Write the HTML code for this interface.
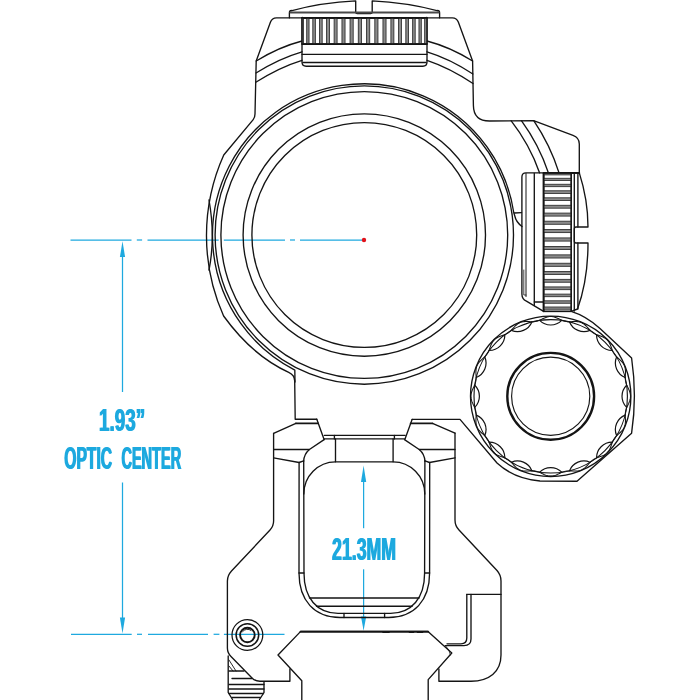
<!DOCTYPE html>
<html><head><meta charset="utf-8"><title>Optic center height</title>
<style>
html,body{margin:0;padding:0;background:#fff;}
body{width:700px;height:700px;overflow:hidden;}
svg{display:block;}
text{font-family:"Liberation Sans",sans-serif;}
</style></head><body>
<svg width="700" height="700" viewBox="0 0 700 700">
<defs><filter id="bx" x="-3%" y="-10%" width="106%" height="120%"><feOffset dx="1" dy="0" result="o"/><feMerge><feMergeNode in="SourceGraphic"/><feMergeNode in="o"/></feMerge></filter></defs>
<rect width="700" height="700" fill="#fff"/>
<g fill="none" stroke="#1ea9df" stroke-width="1.25">
<line x1="70.50" y1="240.00" x2="131.50" y2="240.00" />
<line x1="136.80" y1="240.00" x2="142.10" y2="240.00" />
<line x1="147.50" y1="240.00" x2="218.70" y2="240.00" />
<line x1="223.80" y1="240.00" x2="285.00" y2="240.00" />
<line x1="290.00" y1="240.00" x2="295.00" y2="240.00" />
<line x1="300.00" y1="240.00" x2="362.00" y2="240.00" />
<line x1="71.00" y1="634.30" x2="131.70" y2="634.30" />
<line x1="137.00" y1="634.30" x2="142.00" y2="634.30" />
<line x1="148.00" y1="634.30" x2="208.00" y2="634.30" />
<line x1="213.60" y1="634.30" x2="219.40" y2="634.30" />
<line x1="223.90" y1="634.30" x2="284.50" y2="634.30" />
<line x1="122.50" y1="256.00" x2="122.50" y2="392.00" />
<line x1="122.50" y1="482.50" x2="122.50" y2="618.50" />
<line x1="363.60" y1="481.00" x2="363.60" y2="528.20" />
<line x1="363.60" y1="569.30" x2="363.60" y2="617.50" />
</g>
<g fill="#1ea9df" stroke="none">
<path d="M122.5,241.2 L125.1,257 L119.9,257 Z"/>
<path d="M122.5,633.5 L125.1,617.5 L119.9,617.5 Z"/>
<path d="M363.6,465.6 L366.2,482 L361,482 Z"/>
<path d="M363.6,630.8 L366.2,616.5 L361,616.5 Z"/>
</g>
<g fill="none" stroke="#141414" stroke-width="1.35" stroke-linejoin="round" stroke-linecap="round">
<path d="M289.5,17.8 L276.5,17.8 Q272,17.8 270.4,22.2 L256.2,61 L255,114 Q254.9,117.5 253.2,119.6 L223.75,155 A197,197 0 0 0 223.6,316 Q252.6,356 288.7,372.3 Q294.7,375 294.7,381 L295.2,419.2 L316.8,419.2" />
<path d="M439.5,17.8 L452.3,17.8 Q456.8,17.8 458.4,22.2 L472.6,61 L473.4,105.5 Q473.6,121 489.5,121 L533.6,120.7 L573,135.4 Q579.3,137.8 579.3,144 L579.3,172.9" />
<path d="M256.2,61 Q279,47 302,41" />
<path d="M256,73 Q279,58.5 302,51.8" />
<path d="M255.8,82.3 Q279,67.4 302,60.3" />
<path d="M472.6,61 Q450,47 427,41" />
<path d="M472.9,74 Q450,58.8 427,51.8" />
<path d="M473,83.5 Q450,68 427,60.3" />
<path d="M291,10.8 Q322,2.5 355.7,0.9 L355.7,12 Q355.7,13.6 357.3,13.6 L370.6,13.6 Q372.2,13.6 372.2,12 L372.2,0.9 Q406,2.5 438,10.8" />
<path d="M291.5,10.4 Q289.4,10.6 289.4,12.7 L289.4,17.8 L439.6,17.8 L439.6,12.7 Q439.6,10.6 437.5,10.4" />
<line x1="302.00" y1="17.80" x2="427.00" y2="17.80" stroke-width="1.7"/>
<line x1="290.50" y1="12.50" x2="438.50" y2="12.50" stroke-width="2.1" stroke="#484848"/>
<path d="M302,17.8 L302,62 Q302,66.2 306.2,66.2 L422.8,66.2 Q427,66.2 427,62 L427,17.8" />
<line x1="302.40" y1="17.80" x2="302.40" y2="44.00" stroke-width="1.9"/>
<line x1="426.60" y1="17.80" x2="426.60" y2="44.00" stroke-width="1.9"/>
<line x1="302.00" y1="44.00" x2="427.00" y2="44.00" stroke-width="1.6"/>
<line x1="302.00" y1="54.30" x2="427.00" y2="54.30" />
<line x1="303.00" y1="62.50" x2="426.00" y2="62.50" />
</g>
<g stroke="#222" stroke-width="0.8" fill="#8a8a8a">
<rect x="302.30" y="17.8" width="1.03" height="26.2"/>
<rect x="306.71" y="17.8" width="2.34" height="26.2"/>
<rect x="312.81" y="17.8" width="2.54" height="26.2"/>
<rect x="319.45" y="17.8" width="2.73" height="26.2"/>
<rect x="326.58" y="17.8" width="2.88" height="26.2"/>
<rect x="334.10" y="17.8" width="3.00" height="26.2"/>
<rect x="341.95" y="17.8" width="3.10" height="26.2"/>
<rect x="350.03" y="17.8" width="3.16" height="26.2"/>
<rect x="358.26" y="17.8" width="3.20" height="26.2"/>
<rect x="366.55" y="17.8" width="3.20" height="26.2"/>
<rect x="374.81" y="17.8" width="3.16" height="26.2"/>
<rect x="382.95" y="17.8" width="3.10" height="26.2"/>
<rect x="390.89" y="17.8" width="3.00" height="26.2"/>
<rect x="398.54" y="17.8" width="2.88" height="26.2"/>
<rect x="405.82" y="17.8" width="2.73" height="26.2"/>
<rect x="412.65" y="17.8" width="2.54" height="26.2"/>
<rect x="418.95" y="17.8" width="2.34" height="26.2"/>
<rect x="424.67" y="17.8" width="2.03" height="26.2"/>
</g>
<g stroke="#141414" fill="none">
<line x1="302.00" y1="17.80" x2="427.00" y2="17.80" stroke-width="1.7"/>
<line x1="302.00" y1="44.20" x2="427.00" y2="44.20" stroke-width="1.7"/>
</g>
<g fill="none" stroke="#141414" stroke-width="1.35" stroke-linejoin="round" stroke-linecap="round">
<circle cx="364.30" cy="235.00" r="149.20" />
<circle cx="364.30" cy="235.00" r="143.40" />
<circle cx="364.30" cy="235.00" r="121.20" />
<circle cx="364.30" cy="235.00" r="112.40" />
<path d="M522,226.5 Q516,222 514.8,216 Q514.4,214.5 513.85,213.02 A151.5,151.5 0 1 0 294.81,370.08 L295,382" />
<line x1="514.50" y1="213.00" x2="521.50" y2="212.60" />
<path d="M209,200 Q215.6,237 209,270" />
<path d="M511.04,120.7 A186,186 0 0 1 539.63,172.9" />
<path d="M521.42,120.7 A194.3,194.3 0 0 1 548.41,172.9" />
<path d="M533.75,120.7 A204.4,204.4 0 0 1 559.04,172.9" />
<path d="M579.3,172.9 L526,172.9 Q521.9,172.9 521.9,177 L521.9,294 Q521.9,299 526.4,301.2 L543.6,311.4 L571.2,311.4" />
<line x1="543.60" y1="172.90" x2="579.30" y2="172.90" stroke-width="1.8"/>
<line x1="526.00" y1="173.50" x2="526.00" y2="296.50" stroke-width="1.0"/>
<path d="M523.8,270 L523.8,295 L526,295" stroke-width="0.8"/>
<line x1="534.30" y1="173.50" x2="534.30" y2="305.50" />
<line x1="534.30" y1="302.00" x2="543.60" y2="302.00" />
<line x1="543.60" y1="172.90" x2="543.60" y2="311.40" stroke-width="1.6"/>
<line x1="571.20" y1="172.90" x2="571.20" y2="311.40" stroke-width="1.2"/>
<line x1="574.30" y1="173.50" x2="574.30" y2="311.00" />
<line x1="577.90" y1="173.50" x2="577.90" y2="227.00" />
<line x1="577.90" y1="243.00" x2="577.90" y2="309.00" />
<path d="M579.3,172.9 Q588,200 588,227 L576,227 Q574.3,227 574.3,229 L574.3,241 Q574.3,243 576,243 L588,243 Q588,280 577.5,309 L571.2,311.4" />
</g>
<g stroke="#222" stroke-width="0.8" fill="#8a8a8a">
<rect x="543.6" y="173.20" width="27.6" height="1.71"/>
<rect x="543.6" y="178.26" width="27.6" height="2.25"/>
<rect x="543.6" y="184.24" width="27.6" height="2.45"/>
<rect x="543.6" y="190.78" width="27.6" height="2.63"/>
<rect x="543.6" y="197.81" width="27.6" height="2.79"/>
<rect x="543.6" y="205.26" width="27.6" height="2.92"/>
<rect x="543.6" y="213.07" width="27.6" height="3.03"/>
<rect x="543.6" y="221.17" width="27.6" height="3.11"/>
<rect x="543.6" y="229.47" width="27.6" height="3.17"/>
<rect x="543.6" y="237.91" width="27.6" height="3.20"/>
<rect x="543.6" y="246.40" width="27.6" height="3.20"/>
<rect x="543.6" y="254.86" width="27.6" height="3.17"/>
<rect x="543.6" y="263.22" width="27.6" height="3.11"/>
<rect x="543.6" y="271.40" width="27.6" height="3.03"/>
<rect x="543.6" y="279.32" width="27.6" height="2.92"/>
<rect x="543.6" y="286.91" width="27.6" height="2.79"/>
<rect x="543.6" y="294.09" width="27.6" height="2.63"/>
<rect x="543.6" y="300.81" width="27.6" height="2.45"/>
<rect x="543.6" y="306.99" width="27.6" height="2.25"/>
</g>
<g stroke="#141414" fill="none">
<line x1="543.60" y1="172.90" x2="543.60" y2="311.40" stroke-width="1.7"/>
<line x1="571.20" y1="172.90" x2="571.20" y2="311.40" stroke-width="1.4"/>
<line x1="543.60" y1="172.90" x2="579.30" y2="172.90" stroke-width="1.8"/>
<line x1="543.60" y1="311.40" x2="571.20" y2="311.40" stroke-width="1.5"/>
</g>
<g fill="none" stroke="#141414" stroke-width="1.35" stroke-linejoin="round" stroke-linecap="round">
<circle cx="550.70" cy="396.30" r="80.20" />
<circle cx="550.70" cy="396.30" r="43.40" stroke-width="2.4"/>
<circle cx="550.70" cy="396.30" r="39.10" stroke-width="1.15"/>
<circle cx="550.70" cy="396.30" r="76.70" stroke-width="1.15"/>
<path d="M539.63,320.40 A15.63,15.63 0 0 0 561.77,320.40 M569.52,321.94 A15.63,15.63 0 0 0 589.97,330.42 M596.54,334.80 A15.63,15.63 0 0 0 612.20,350.46 M616.58,357.03 A15.63,15.63 0 0 0 625.06,377.48 M626.60,385.23 A15.63,15.63 0 0 0 626.60,407.37 M625.06,415.12 A15.63,15.63 0 0 0 616.58,435.57 M612.20,442.14 A15.63,15.63 0 0 0 596.54,457.80 M589.97,462.18 A15.63,15.63 0 0 0 569.52,470.66 M561.77,472.20 A15.63,15.63 0 0 0 539.63,472.20 M531.88,470.66 A15.63,15.63 0 0 0 511.43,462.18 M504.86,457.80 A15.63,15.63 0 0 0 489.20,442.14 M484.82,435.57 A15.63,15.63 0 0 0 476.34,415.12 M474.80,407.37 A15.63,15.63 0 0 0 474.80,385.23 M476.34,377.48 A15.63,15.63 0 0 0 484.82,357.03 M489.20,350.46 A15.63,15.63 0 0 0 504.86,334.80 M511.43,330.42 A15.63,15.63 0 0 0 531.88,321.94 " stroke-width="1.2"/>
<path d="M630.50,396.30 L630.48,397.00 L630.42,397.69 L630.33,398.39 L630.19,399.08 L630.03,399.76 L629.83,400.45 L629.60,401.13 L629.35,401.80 L629.08,402.47 L628.80,403.13 L628.50,403.79 L628.20,404.45 L627.89,405.09 L627.59,405.74 L627.29,406.38 L627.00,407.02 L626.73,407.66 L626.48,408.30 L626.25,408.94 L626.04,409.58 L625.86,410.23 L625.70,410.88 L625.57,411.53 L625.47,412.19 L625.39,412.86 L625.34,413.53 L625.30,414.21 L625.29,414.90 L625.30,415.59 L625.32,416.29 L625.35,417.00 L625.38,417.71 L625.41,418.43 L625.44,419.15 L625.47,419.87 L625.48,420.60 L625.47,421.32 L625.44,422.04 L625.39,422.75 L625.31,423.46 L625.20,424.16 L625.06,424.85 L624.89,425.52 L624.67,426.19 L624.43,426.84 L624.14,427.47 L623.82,428.09 L623.47,428.70 L623.08,429.29 L622.66,429.86 L622.22,430.41 L621.75,430.95 L621.26,431.48 L620.76,432.00 L620.24,432.50 L619.71,432.99 L619.18,433.48 L618.65,433.96 L618.12,434.44 L617.60,434.93 L617.09,435.41 L616.60,435.89 L616.12,436.39 L615.66,436.89 L615.22,437.40 L614.81,437.93 L614.41,438.47 L614.04,439.02 L613.69,439.59 L613.37,440.18 L613.06,440.78 L612.77,441.40 L612.50,442.03 L612.24,442.67 L611.99,443.33 L611.74,443.99 L611.50,444.66 L611.26,445.34 L611.01,446.02 L610.75,446.69 L610.49,447.36 L610.21,448.03 L609.91,448.68 L609.58,449.32 L609.24,449.94 L608.87,450.55 L608.48,451.13 L608.06,451.69 L607.61,452.22 L607.13,452.73 L606.62,453.21 L606.09,453.66 L605.53,454.08 L604.95,454.47 L604.34,454.84 L603.72,455.18 L603.08,455.51 L602.43,455.81 L601.76,456.09 L601.09,456.35 L600.42,456.61 L599.74,456.86 L599.06,457.10 L598.39,457.34 L597.73,457.59 L597.07,457.84 L596.43,458.10 L595.80,458.37 L595.18,458.66 L594.58,458.97 L593.99,459.29 L593.42,459.64 L592.87,460.01 L592.33,460.41 L591.80,460.82 L591.29,461.26 L590.79,461.72 L590.29,462.20 L589.81,462.69 L589.33,463.20 L588.84,463.72 L588.36,464.25 L587.88,464.78 L587.39,465.31 L586.90,465.84 L586.40,466.36 L585.88,466.86 L585.35,467.35 L584.81,467.82 L584.26,468.26 L583.69,468.68 L583.10,469.07 L582.49,469.42 L581.87,469.74 L581.24,470.03 L580.59,470.27 L579.92,470.49 L579.25,470.66 L578.56,470.80 L577.86,470.91 L577.15,470.99 L576.44,471.04 L575.72,471.07 L575.00,471.08 L574.27,471.07 L573.55,471.04 L572.83,471.01 L572.11,470.98 L571.40,470.95 L570.69,470.92 L569.99,470.90 L569.30,470.89 L568.61,470.90 L567.93,470.94 L567.26,470.99 L566.59,471.07 L565.93,471.17 L565.28,471.30 L564.63,471.46 L563.98,471.64 L563.34,471.85 L562.70,472.08 L562.06,472.33 L561.42,472.60 L560.78,472.89 L560.14,473.19 L559.49,473.49 L558.85,473.80 L558.19,474.10 L557.53,474.40 L556.87,474.68 L556.20,474.95 L555.53,475.20 L554.85,475.43 L554.16,475.63 L553.48,475.79 L552.79,475.93 L552.09,476.02 L551.40,476.08 L550.70,476.10 L550.00,476.08 L549.31,476.02 L548.61,475.93 L547.92,475.79 L547.24,475.63 L546.55,475.43 L545.87,475.20 L545.20,474.95 L544.53,474.68 L543.87,474.40 L543.21,474.10 L542.55,473.80 L541.91,473.49 L541.26,473.19 L540.62,472.89 L539.98,472.60 L539.34,472.33 L538.70,472.08 L538.06,471.85 L537.42,471.64 L536.77,471.46 L536.12,471.30 L535.47,471.17 L534.81,471.07 L534.14,470.99 L533.47,470.94 L532.79,470.90 L532.10,470.89 L531.41,470.90 L530.71,470.92 L530.00,470.95 L529.29,470.98 L528.57,471.01 L527.85,471.04 L527.13,471.07 L526.40,471.08 L525.68,471.07 L524.96,471.04 L524.25,470.99 L523.54,470.91 L522.84,470.80 L522.15,470.66 L521.48,470.49 L520.81,470.27 L520.16,470.03 L519.53,469.74 L518.91,469.42 L518.30,469.07 L517.71,468.68 L517.14,468.26 L516.59,467.82 L516.05,467.35 L515.52,466.86 L515.00,466.36 L514.50,465.84 L514.01,465.31 L513.52,464.78 L513.04,464.25 L512.56,463.72 L512.08,463.20 L511.59,462.69 L511.11,462.20 L510.61,461.72 L510.11,461.26 L509.60,460.82 L509.07,460.41 L508.53,460.01 L507.98,459.64 L507.41,459.29 L506.82,458.97 L506.22,458.66 L505.60,458.37 L504.97,458.10 L504.33,457.84 L503.67,457.59 L503.01,457.34 L502.34,457.10 L501.66,456.86 L500.98,456.61 L500.31,456.35 L499.64,456.09 L498.97,455.81 L498.32,455.51 L497.68,455.18 L497.06,454.84 L496.45,454.47 L495.87,454.08 L495.31,453.66 L494.78,453.21 L494.27,452.73 L493.79,452.22 L493.34,451.69 L492.92,451.13 L492.53,450.55 L492.16,449.94 L491.82,449.32 L491.49,448.68 L491.19,448.03 L490.91,447.36 L490.65,446.69 L490.39,446.02 L490.14,445.34 L489.90,444.66 L489.66,443.99 L489.41,443.33 L489.16,442.67 L488.90,442.03 L488.63,441.40 L488.34,440.78 L488.03,440.18 L487.71,439.59 L487.36,439.02 L486.99,438.47 L486.59,437.93 L486.18,437.40 L485.74,436.89 L485.28,436.39 L484.80,435.89 L484.31,435.41 L483.80,434.93 L483.28,434.44 L482.75,433.96 L482.22,433.48 L481.69,432.99 L481.16,432.50 L480.64,432.00 L480.14,431.48 L479.65,430.95 L479.18,430.41 L478.74,429.86 L478.32,429.29 L477.93,428.70 L477.58,428.09 L477.26,427.47 L476.97,426.84 L476.73,426.19 L476.51,425.52 L476.34,424.85 L476.20,424.16 L476.09,423.46 L476.01,422.75 L475.96,422.04 L475.93,421.32 L475.92,420.60 L475.93,419.87 L475.96,419.15 L475.99,418.43 L476.02,417.71 L476.05,417.00 L476.08,416.29 L476.10,415.59 L476.11,414.90 L476.10,414.21 L476.06,413.53 L476.01,412.86 L475.93,412.19 L475.83,411.53 L475.70,410.88 L475.54,410.23 L475.36,409.58 L475.15,408.94 L474.92,408.30 L474.67,407.66 L474.40,407.02 L474.11,406.38 L473.81,405.74 L473.51,405.09 L473.20,404.45 L472.90,403.79 L472.60,403.13 L472.32,402.47 L472.05,401.80 L471.80,401.13 L471.57,400.45 L471.37,399.76 L471.21,399.08 L471.07,398.39 L470.98,397.69 L470.92,397.00 L470.90,396.30 L470.92,395.60 L470.98,394.91 L471.07,394.21 L471.21,393.52 L471.37,392.84 L471.57,392.15 L471.80,391.47 L472.05,390.80 L472.32,390.13 L472.60,389.47 L472.90,388.81 L473.20,388.15 L473.51,387.51 L473.81,386.86 L474.11,386.22 L474.40,385.58 L474.67,384.94 L474.92,384.30 L475.15,383.66 L475.36,383.02 L475.54,382.37 L475.70,381.72 L475.83,381.07 L475.93,380.41 L476.01,379.74 L476.06,379.07 L476.10,378.39 L476.11,377.70 L476.10,377.01 L476.08,376.31 L476.05,375.60 L476.02,374.89 L475.99,374.17 L475.96,373.45 L475.93,372.73 L475.92,372.00 L475.93,371.28 L475.96,370.56 L476.01,369.85 L476.09,369.14 L476.20,368.44 L476.34,367.75 L476.51,367.08 L476.73,366.41 L476.97,365.76 L477.26,365.13 L477.58,364.51 L477.93,363.90 L478.32,363.31 L478.74,362.74 L479.18,362.19 L479.65,361.65 L480.14,361.12 L480.64,360.60 L481.16,360.10 L481.69,359.61 L482.22,359.12 L482.75,358.64 L483.28,358.16 L483.80,357.68 L484.31,357.19 L484.80,356.71 L485.28,356.21 L485.74,355.71 L486.18,355.20 L486.59,354.67 L486.99,354.13 L487.36,353.58 L487.71,353.01 L488.03,352.42 L488.34,351.82 L488.63,351.20 L488.90,350.57 L489.16,349.93 L489.41,349.27 L489.66,348.61 L489.90,347.94 L490.14,347.26 L490.39,346.58 L490.65,345.91 L490.91,345.24 L491.19,344.57 L491.49,343.92 L491.82,343.28 L492.16,342.66 L492.53,342.05 L492.92,341.47 L493.34,340.91 L493.79,340.38 L494.27,339.87 L494.78,339.39 L495.31,338.94 L495.87,338.52 L496.45,338.13 L497.06,337.76 L497.68,337.42 L498.32,337.09 L498.97,336.79 L499.64,336.51 L500.31,336.25 L500.98,335.99 L501.66,335.74 L502.34,335.50 L503.01,335.26 L503.67,335.01 L504.33,334.76 L504.97,334.50 L505.60,334.23 L506.22,333.94 L506.82,333.63 L507.41,333.31 L507.98,332.96 L508.53,332.59 L509.07,332.19 L509.60,331.78 L510.11,331.34 L510.61,330.88 L511.11,330.40 L511.59,329.91 L512.08,329.40 L512.56,328.88 L513.04,328.35 L513.52,327.82 L514.01,327.29 L514.50,326.76 L515.00,326.24 L515.52,325.74 L516.05,325.25 L516.59,324.78 L517.14,324.34 L517.71,323.92 L518.30,323.53 L518.91,323.18 L519.53,322.86 L520.16,322.57 L520.81,322.33 L521.48,322.11 L522.15,321.94 L522.84,321.80 L523.54,321.69 L524.25,321.61 L524.96,321.56 L525.68,321.53 L526.40,321.52 L527.13,321.53 L527.85,321.56 L528.57,321.59 L529.29,321.62 L530.00,321.65 L530.71,321.68 L531.41,321.70 L532.10,321.71 L532.79,321.70 L533.47,321.66 L534.14,321.61 L534.81,321.53 L535.47,321.43 L536.12,321.30 L536.77,321.14 L537.42,320.96 L538.06,320.75 L538.70,320.52 L539.34,320.27 L539.98,320.00 L540.62,319.71 L541.26,319.41 L541.91,319.11 L542.55,318.80 L543.21,318.50 L543.87,318.20 L544.53,317.92 L545.20,317.65 L545.87,317.40 L546.55,317.17 L547.24,316.97 L547.92,316.81 L548.61,316.67 L549.31,316.58 L550.00,316.52 L550.70,316.50 L551.40,316.52 L552.09,316.58 L552.79,316.67 L553.48,316.81 L554.16,316.97 L554.85,317.17 L555.53,317.40 L556.20,317.65 L556.87,317.92 L557.53,318.20 L558.19,318.50 L558.85,318.80 L559.49,319.11 L560.14,319.41 L560.78,319.71 L561.42,320.00 L562.06,320.27 L562.70,320.52 L563.34,320.75 L563.98,320.96 L564.63,321.14 L565.28,321.30 L565.93,321.43 L566.59,321.53 L567.26,321.61 L567.93,321.66 L568.61,321.70 L569.30,321.71 L569.99,321.70 L570.69,321.68 L571.40,321.65 L572.11,321.62 L572.83,321.59 L573.55,321.56 L574.27,321.53 L575.00,321.52 L575.72,321.53 L576.44,321.56 L577.15,321.61 L577.86,321.69 L578.56,321.80 L579.25,321.94 L579.92,322.11 L580.59,322.33 L581.24,322.57 L581.87,322.86 L582.49,323.18 L583.10,323.53 L583.69,323.92 L584.26,324.34 L584.81,324.78 L585.35,325.25 L585.88,325.74 L586.40,326.24 L586.90,326.76 L587.39,327.29 L587.88,327.82 L588.36,328.35 L588.84,328.88 L589.33,329.40 L589.81,329.91 L590.29,330.40 L590.79,330.88 L591.29,331.34 L591.80,331.78 L592.33,332.19 L592.87,332.59 L593.42,332.96 L593.99,333.31 L594.58,333.63 L595.18,333.94 L595.80,334.23 L596.43,334.50 L597.07,334.76 L597.73,335.01 L598.39,335.26 L599.06,335.50 L599.74,335.74 L600.42,335.99 L601.09,336.25 L601.76,336.51 L602.43,336.79 L603.08,337.09 L603.72,337.42 L604.34,337.76 L604.95,338.13 L605.53,338.52 L606.09,338.94 L606.62,339.39 L607.13,339.87 L607.61,340.38 L608.06,340.91 L608.48,341.47 L608.87,342.05 L609.24,342.66 L609.58,343.28 L609.91,343.92 L610.21,344.57 L610.49,345.24 L610.75,345.91 L611.01,346.58 L611.26,347.26 L611.50,347.94 L611.74,348.61 L611.99,349.27 L612.24,349.93 L612.50,350.57 L612.77,351.20 L613.06,351.82 L613.37,352.42 L613.69,353.01 L614.04,353.58 L614.41,354.13 L614.81,354.67 L615.22,355.20 L615.66,355.71 L616.12,356.21 L616.60,356.71 L617.09,357.19 L617.60,357.67 L618.12,358.16 L618.65,358.64 L619.18,359.12 L619.71,359.61 L620.24,360.10 L620.76,360.60 L621.26,361.12 L621.75,361.65 L622.22,362.19 L622.66,362.74 L623.08,363.31 L623.47,363.90 L623.82,364.51 L624.14,365.13 L624.43,365.76 L624.67,366.41 L624.89,367.08 L625.06,367.75 L625.20,368.44 L625.31,369.14 L625.39,369.85 L625.44,370.56 L625.47,371.28 L625.48,372.00 L625.47,372.73 L625.44,373.45 L625.41,374.17 L625.38,374.89 L625.35,375.60 L625.32,376.31 L625.30,377.01 L625.29,377.70 L625.30,378.39 L625.34,379.07 L625.39,379.74 L625.47,380.41 L625.57,381.07 L625.70,381.72 L625.86,382.37 L626.04,383.02 L626.25,383.66 L626.48,384.30 L626.73,384.94 L627.00,385.58 L627.29,386.22 L627.59,386.86 L627.89,387.51 L628.20,388.15 L628.50,388.81 L628.80,389.47 L629.08,390.13 L629.35,390.80 L629.60,391.47 L629.83,392.15 L630.03,392.84 L630.19,393.52 L630.33,394.21 L630.42,394.91 L630.48,395.60 L630.50,396.30Z" stroke-width="1.05"/>
<path d="M571.2,311.4 Q586,316 600,328.4 L631.6,358 Q637.2,396 631.6,433.2 L577,481.2 L540,481 Q514,478.8 497,463 L460,419.4 L412.1,419.4" />
<path d="M273.6,433.4 L295.9,423.3" />
<line x1="295.90" y1="423.30" x2="318.20" y2="423.30" stroke-width="1.7"/>
<path d="M316.8,419.2 L324.1,439.6" />
<path d="M412.1,419.4 L405.2,438.5" />
<path d="M455,433.2 L432.5,423.4" />
<line x1="410.60" y1="423.40" x2="432.50" y2="423.40" stroke-width="1.7"/>
<line x1="324.30" y1="435.30" x2="405.20" y2="435.30" />
<line x1="324.30" y1="438.90" x2="405.20" y2="438.90" />
<line x1="334.40" y1="435.30" x2="334.40" y2="438.90" />
<line x1="394.40" y1="435.30" x2="394.40" y2="438.90" />
<line x1="335.50" y1="438.90" x2="335.50" y2="461.80" />
<line x1="393.10" y1="438.90" x2="393.10" y2="461.80" />
<path d="M273.6,433.4 L273.6,520 Q273.9,526 270,530 L231.5,571 Q227.4,575.5 227.4,581 L227.4,648 Q227.4,653 231,656.5 L252,678 Q255,681.2 260,681.2 L289.9,681.2 L289.9,669" />
<path d="M455,433.2 L455,520 Q455,526 459,530 L497,570.5 Q501,575 501,581 L501,655 C501,672 489,681.2 471,681.2 L438.9,681.2 L438.9,669" />
<path d="M273.6,449.5 L309.4,449.5" />
<path d="M324.1,439.6 L309.4,449.5 Q304,454 303.6,461.4" />
<path d="M273.6,457.8 L299.1,462.5 L303.6,460.8" />
<path d="M455,449.5 L419.2,449.5" />
<path d="M404.5,439.6 L419.2,449.5 Q424.6,454 425,461.4" />
<path d="M455,457.8 L429.5,462.5 L425,460.8" />
<path d="M299.1,462.5 L299,573 C299,600.6 314.6,617.5 340,617.5 L388.6,617.5 C414,617.5 429.6,600.6 429.6,573 L429.7,462.5" />
<path d="M335.5,461.8 L393.1,461.8 A31.7,32.2 0 0 1 424.8,494 L424.6,573 C424.6,598 411.7,613.3 390.6,613.3 L338,613.3 C316.9,613.3 304,598 304,573 L303.8,494 A31.7,32.2 0 0 1 335.5,461.8 Z" />
<line x1="303.70" y1="461.00" x2="303.80" y2="494.00" />
<line x1="424.90" y1="461.00" x2="424.80" y2="494.00" />
<line x1="344.00" y1="613.30" x2="344.00" y2="617.50" />
<line x1="384.60" y1="613.30" x2="384.60" y2="617.50" />
<line x1="299.00" y1="573.00" x2="304.00" y2="573.00" />
<line x1="424.60" y1="573.00" x2="429.60" y2="573.00" />
<line x1="309.50" y1="598.00" x2="419.10" y2="598.00" />
<line x1="316.50" y1="606.20" x2="412.10" y2="606.20" />
<path d="M301.8,700 L301.8,680.7 L278,655 L300.7,631.4 L428,631.4 L451.8,653 L428.2,679.6 L428.2,700" />
<line x1="300.50" y1="631.80" x2="428.20" y2="631.80" stroke-width="1.9"/>
<line x1="383.00" y1="632.20" x2="389.00" y2="632.20" stroke-width="1.6"/>
<line x1="409.50" y1="632.20" x2="413.50" y2="632.20" stroke-width="1.6"/>
<line x1="417.50" y1="632.20" x2="422.50" y2="632.20" stroke-width="1.6"/>
<path d="M466.8,594.4 L501,594.4" />
<path d="M466.8,594.4 L466.8,638 Q466.8,643.8 461,643.8 L447,643.8" />
<path d="M471,594.4 L471,639 Q471,645.6 464,645.6 L445.4,645.6" />
<path d="M445.4,645.6 Q450,650 450.5,655" stroke-width="0.8"/>
<circle cx="247.40" cy="635.00" r="15.40" stroke-width="1.25"/>
<circle cx="247.40" cy="635.00" r="11.30" stroke-width="1.5"/>
<circle cx="247.40" cy="635.00" r="7.30" stroke-width="1.9"/>
<path d="M242.6,631.6 A5.9,5.9 0 0 1 251,630.4" stroke-width="0.9"/>
<path d="M228.2,656 L228.2,692.5 L232.5,699.5 M264,682 L264,692.5 L259.5,699.5" />
<line x1="229.00" y1="671.00" x2="244.00" y2="671.00" stroke-width="1.3"/>
<line x1="232.00" y1="678.50" x2="252.00" y2="678.50" stroke-width="1.3"/>
<line x1="229.00" y1="684.50" x2="264.00" y2="684.50" stroke-width="1.3"/>
<line x1="229.00" y1="689.00" x2="264.00" y2="689.00" stroke-width="1.3"/>
<line x1="229.00" y1="693.50" x2="263.50" y2="693.50" stroke-width="1.3"/>
<line x1="232.00" y1="697.50" x2="260.50" y2="697.50" stroke-width="1.3"/>
<path d="M229,660 L236,671 M229,666 L233,671" stroke-width="0.9"/>
</g>
<circle cx="364" cy="240" r="2.2" fill="#e1121a"/>
<g fill="#1ea9df" font-weight="700" font-size="31" filter="url(#bx)">
<text id="t1" y="431.2" x="98.6" textLength="46.0" lengthAdjust="spacingAndGlyphs">1.93”</text>
<text id="t2" y="468.5"><tspan x="63.7" textLength="47.9" lengthAdjust="spacingAndGlyphs">OPTIC</tspan> <tspan x="120.9" textLength="59.8" lengthAdjust="spacingAndGlyphs">CENTER</tspan></text>
<text id="t3" y="559.7" x="331.6" textLength="64.0" lengthAdjust="spacingAndGlyphs">21.3MM</text>
</g>
</svg>
</body></html>
